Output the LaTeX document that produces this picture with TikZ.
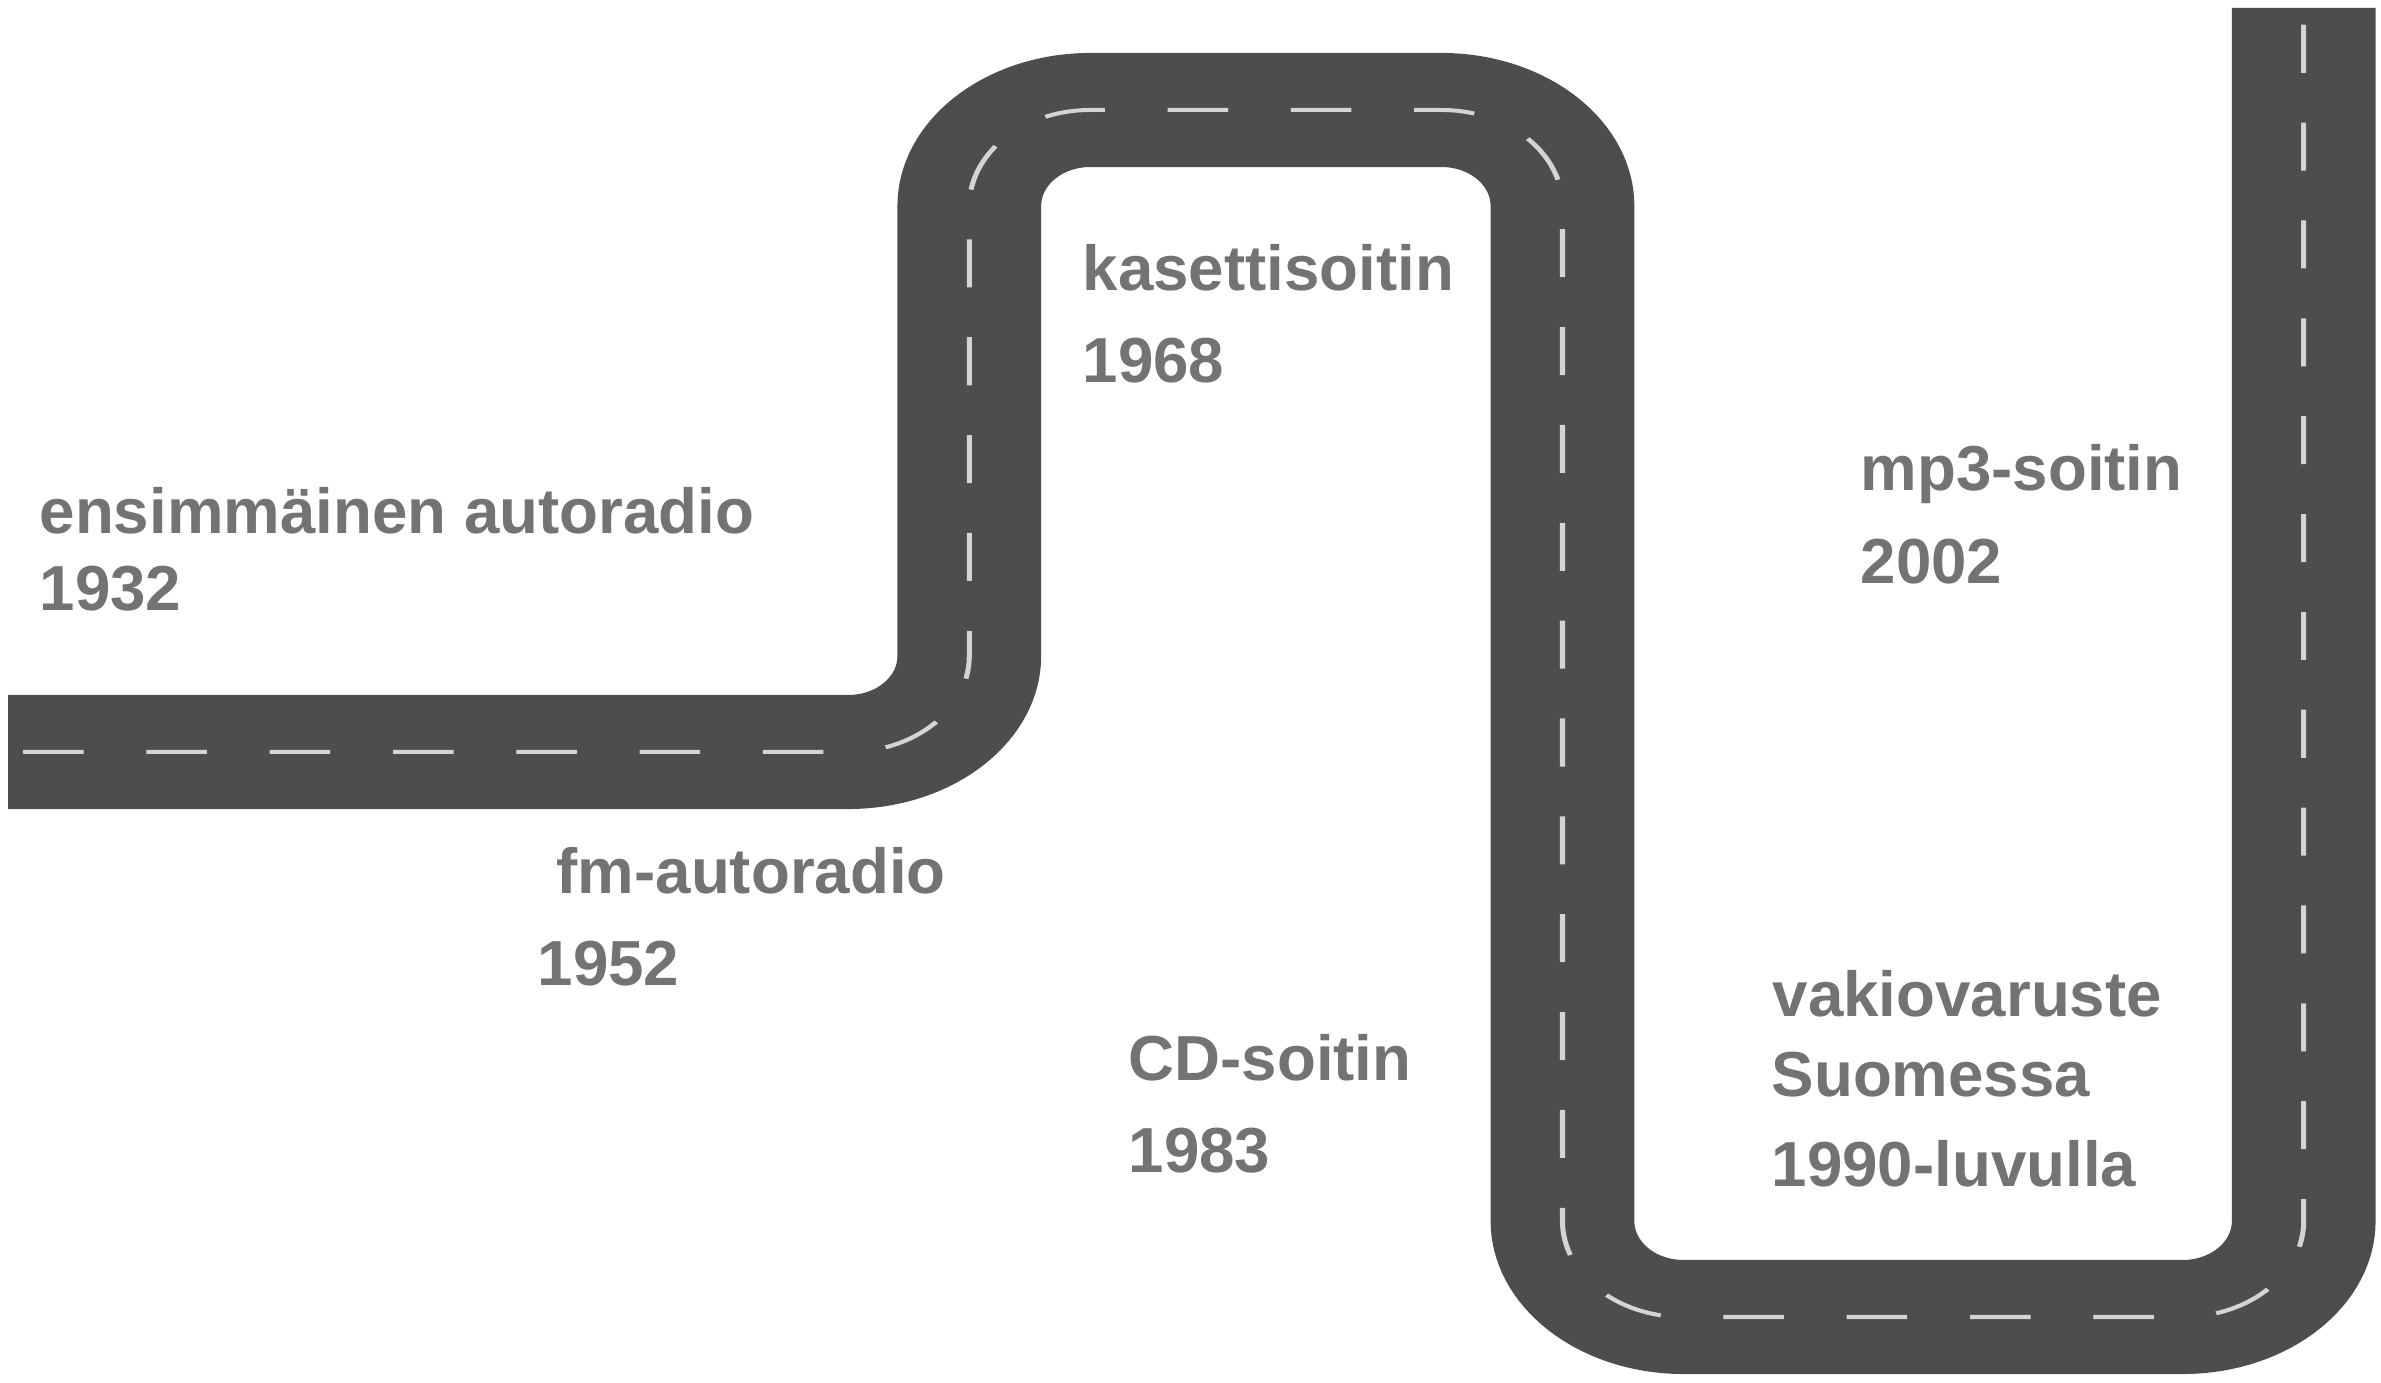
\documentclass[tikz,border=0pt]{standalone}
\usepackage{fontspec}
\setmainfont{Liberation Sans}
\definecolor{RoadGray}{HTML}{4D4D4D}
\definecolor{LaneGray}{HTML}{D4D4D4}
\definecolor{LabelGray}{HTML}{737373}
\newcommand{\roadxscale}{1.26}
\tikzset{
  road/.style={draw=RoadGray,line width=1.14cm,rounded corners=0.96cm},
  lane/.style={draw=LaneGray,line width=0.04cm,rounded corners=0.96cm,
    dash pattern=on 0.48cm off 0.498cm,dash phase=0.858cm},
  milestone/.style={anchor=base west,inner sep=0pt,text=LabelGray,
    font=\bfseries\fontsize{18.1}{20}\selectfont}
}
\begin{document}
\begin{tikzpicture}[x=0.01cm,y=-0.01cm]
    \useasboundingbox (0,0) rectangle (2381,1383);

    % The road, drawn round and then stretched sideways
    \begin{scope}[transform canvas={xscale=\roadxscale},x=0.0079365cm]
      \coordinate (R0) at (8,752);
      \coordinate (R1) at (969,752);
      \coordinate (R2) at (969,110);
      \coordinate (R3) at (1562,110);
      \coordinate (R4) at (1562,1317);
      \coordinate (R5) at (2303,1317);
      \coordinate (R6) at (2303,8);
      \draw[road] (R0) -- (R1) -- (R2) -- (R3) -- (R4) -- (R5) -- (R6);
      \draw[lane] (R0) -- (R1) -- (R2) -- (R3) -- (R4) -- (R5) -- (R6);
    \end{scope}

    % Milestones along the road
    \node[milestone] (first) at (39,534) {ensimmäinen autoradio};
    \node[milestone] (firstyear) at (39,611) {1932};

    \node[milestone] (fm) at (556,894) {fm-autoradio};
    \node[milestone] (fmyear) at (537,986) {1952};

    \node[milestone] (cassette) at (1082,291) {kasettisoitin};
    \node[milestone] (cassetteyear) at (1082,383) {1968};

    \node[milestone] (cd) at (1128,1081) {CD-soitin};
    \node[milestone] (cdyear) at (1128,1173) {1983};

    \node[milestone] (standard) at (1772,1017) {vakiovaruste};
    \node[milestone] (standardwhere) at (1771,1097) {Suomessa};
    \node[milestone] (standardyear) at (1771,1187) {1990-luvulla};

    \node[milestone] (mp3) at (1860,491) {mp3-soitin};
    \node[milestone] (mp3year) at (1860,584) {2002};
\end{tikzpicture}
\end{document}
